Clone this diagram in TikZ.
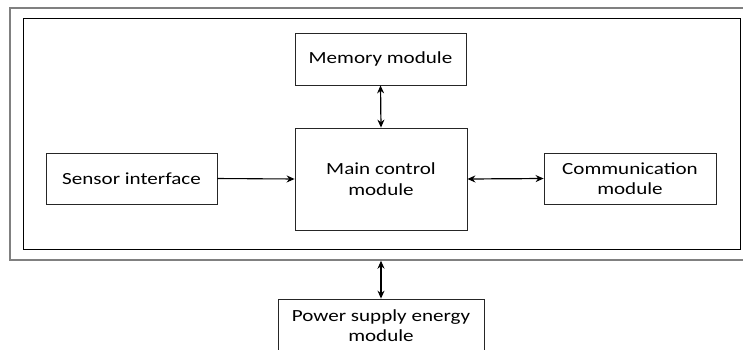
\documentclass[tikz,border=0pt]{standalone}
\usepackage{fontspec}
\setmainfont{Carlito}[FakeStretch=1.24]
\usetikzlibrary{arrows.meta}
\begin{document}
\begin{tikzpicture}[x=1pt,y=-1pt,
  every node/.style={font=\fontsize{17}{20.5}\selectfont},
  blk/.style={draw=black!85, line width=0.8pt, inner sep=0pt, align=center},
  link/.style={line width=1.2pt, {Stealth[length=8pt,width=7pt]}-{Stealth[length=8pt,width=7pt]}},
  onelink/.style={line width=1.1pt, -{Stealth[length=8pt,width=7pt]}}]
\useasboundingbox (0,0) rectangle (743,349);
\clip (0,0) rectangle (743,349);
\node (outer) [draw=black!50, line width=1.4pt, minimum width=740pt, minimum height=252pt, inner sep=0pt] at (380,134) {};
\node (inner) [draw=black, line width=1pt, minimum width=717pt, minimum height=231pt, inner sep=0pt] at (381.5,133.5) {};
\node (mem) [blk, minimum width=171pt, minimum height=52pt] at (380.5,59) {Memory module};
\node (main) [blk, minimum width=172pt, minimum height=102pt] at (381,179) {Main control\\module};
\node (sens) [blk, minimum width=171pt, minimum height=51pt] at (131.5,178.5) {Sensor interface};
\node (comm) [blk, minimum width=172pt, minimum height=51pt] at (630,178.5) {Communication\\module};
\node (pow) [blk, minimum width=206pt, minimum height=53pt] at (381,325.5) {Power supply energy\\module};
\draw[link] (mem.south) -- (main.north);
\draw[onelink] (sens.east) -- (main.west);
\draw[link] (main.east) -- (comm.west);
\draw[link] (outer.south -| pow.north) -- (pow.north);
\end{tikzpicture}
\end{document}
